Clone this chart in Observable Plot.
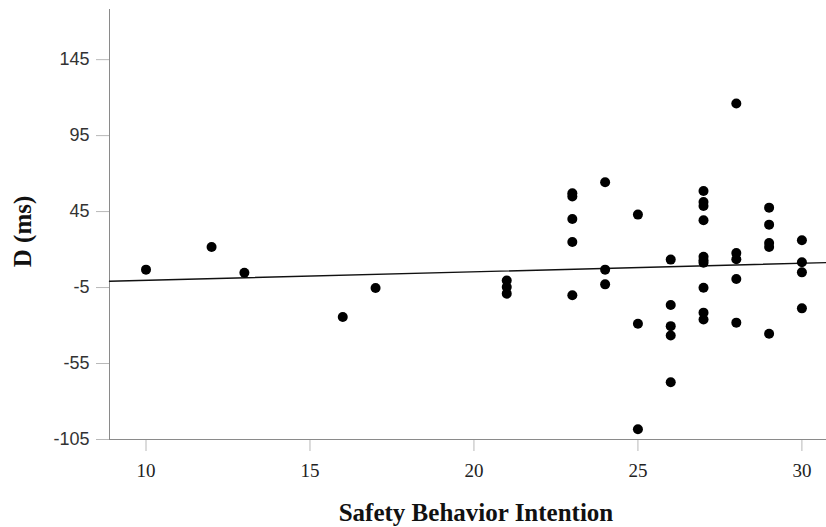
<!DOCTYPE html>
<html>
<head>
<meta charset="utf-8">
<script src="https://cdn.jsdelivr.net/npm/d3@7"></script>
<script src="https://cdn.jsdelivr.net/npm/@observablehq/plot@0.6"></script>
<style>
  html, body { margin: 0; padding: 0; background: #fff; }
</style>
</head>
<body>
<div id="chart"></div>
<script>
// Safety Behavior Intention (x) vs D in ms (y)
const intention = [10, 12, 13, 16, 17, 21, 21, 21,
  23, 23, 23, 23, 23,
  24, 24, 24,
  25, 25, 25,
  26, 26, 26, 26, 26,
  27, 27, 27, 27, 27, 27, 27, 27, 27, 27,
  28, 28, 28, 28, 28,
  29, 29, 29, 29, 29,
  30, 30, 30, 30];
const dMs = [6.8, 21.7, 4.8, -24.4, -5.3, -0.3, -4.7, -9,
  57, 55, 40.1, 25, -10.1,
  64.3, 6.8, -2.9,
  43, -28.8, -98.2,
  13.4, -16.5, -30.4, -36.5, -67.3,
  58.6, 51.3, 48.7, 39.3, 15.3, 13, 11.3, -5.1, -21.5, -26,
  116.1, 17.7, 13.6, 0.6, -28.1,
  47.6, 36.4, 24.3, 21.7, -35.4,
  26.1, 11.6, 5, -18.7];

// fitted line
const fitIntercept = -5.9;
const fitSlope = 0.563;

const xDomain = [8.887, 30.75];
const yDomain = [-105, 178];
const xTicks = [10, 15, 20, 25, 30];
const yTicks = [-105, -55, -5, 45, 95, 145];

const points = intention.map((x, i) => ({x, y: dMs[i]}));
const fitLine = xDomain.map(x => ({x, y: fitIntercept + fitSlope * x}));

const chart = Plot.plot({
  width: 826,
  height: 527,
  marginLeft: 109,
  marginRight: 0,
  marginTop: 9,
  marginBottom: 88,
  x: {domain: xDomain, axis: null},
  y: {domain: yDomain, axis: null},
  marks: [
    Plot.axisY(yTicks, {
      tickSize: 13, tickPadding: 7, stroke: "#b8b8b8", fill: "#333",
      tickFormat: d => String(d),
      fontFamily: "Liberation Sans", fontSize: 18, label: null
    }),
    Plot.axisX(xTicks, {
      tickSize: 12, tickPadding: 12, stroke: "#b8b8b8", fill: "#222",
      tickFormat: d => String(d),
      fontFamily: "Liberation Serif", fontSize: 19, label: null
    }),
    Plot.ruleX([xDomain[0]], {stroke: "#8a8a8a", strokeWidth: 1}),
    Plot.ruleY([yDomain[0]], {stroke: "#8a8a8a", strokeWidth: 1}),
    Plot.line(fitLine, {x: "x", y: "y", stroke: "#111", strokeWidth: 1.4}),
    Plot.dot(points, {x: "x", y: "y", r: 5, fill: "#000", stroke: "none"}),
    Plot.text(["Safety Behavior Intention"], {
      frameAnchor: "bottom", lineAnchor: "middle", textAnchor: "middle", dx: 8, dy: 73,
      fontFamily: "Liberation Serif", fontWeight: "bold", fontSize: 25, fill: "#111"
    }),
    Plot.text(["D (ms)"], {
      frameAnchor: "left", rotate: -90, lineAnchor: "middle", textAnchor: "middle", dx: -87, dy: 7,
      fontFamily: "Liberation Serif", fontWeight: "bold", fontSize: 25, fill: "#111"
    })
  ]
});
document.getElementById("chart").appendChild(chart);
</script>
</body>
</html>
